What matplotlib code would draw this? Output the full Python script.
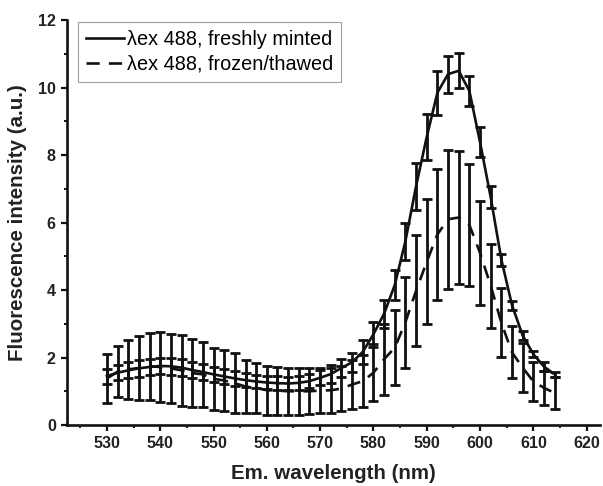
import matplotlib
matplotlib.use("Agg")
import matplotlib.pyplot as plt
from matplotlib.ticker import MultipleLocator
import numpy as np

plt.rcParams["font.family"] = ["Liberation Sans", "DejaVu Sans"]

# emission wavelengths (nm)
wavelength = np.arange(530, 616, 2)

# freshly minted: mean and error
fresh = [1.45, 1.55, 1.62, 1.68, 1.72, 1.75, 1.74, 1.70, 1.63, 1.57,
         1.50, 1.44, 1.38, 1.33, 1.29, 1.26, 1.24, 1.23, 1.25, 1.30,
         1.40, 1.51, 1.69, 1.86, 2.17, 2.69, 3.30, 4.15, 5.45, 7.08,
         8.54, 9.85, 10.40, 10.50, 9.90, 8.38, 6.75, 4.90, 3.55, 2.65,
         2.10, 1.73, 1.50]
fresh_err = [0.22, 0.23, 0.24, 0.25, 0.25, 0.25, 0.25, 0.25, 0.25, 0.24,
             0.23, 0.22, 0.21, 0.20, 0.20, 0.20, 0.20, 0.20, 0.20, 0.20,
             0.22, 0.26, 0.26, 0.28, 0.35, 0.37, 0.42, 0.45, 0.55, 0.70,
             0.68, 0.65, 0.55, 0.52, 0.45, 0.45, 0.33, 0.18, 0.14, 0.14,
             0.08, 0.13, 0.08]

# frozen/thawed: mean and error
frozen = [1.38, 1.58, 1.65, 1.69, 1.74, 1.72, 1.68, 1.62, 1.54, 1.50,
          1.37, 1.32, 1.24, 1.14, 1.10, 1.03, 1.02, 1.00, 1.00, 1.00,
          1.02, 1.03, 1.08, 1.20, 1.30, 1.55, 1.95, 2.29, 3.05, 3.98,
          4.84, 5.65, 6.10, 6.15, 5.93, 5.10, 4.13, 3.03, 2.15, 1.70,
          1.29, 1.10, 0.95]
frozen_err = [0.72, 0.76, 0.88, 0.95, 1.00, 1.05, 1.03, 1.05, 1.00, 0.96,
              0.92, 0.90, 0.88, 0.78, 0.75, 0.72, 0.71, 0.70, 0.70, 0.68,
              0.66, 0.67, 0.67, 0.72, 0.78, 0.85, 1.05, 1.11, 1.35, 1.64,
              1.86, 1.95, 2.06, 1.98, 1.82, 1.55, 1.25, 1.02, 0.77, 0.72,
              0.58, 0.50, 0.48]

labels = ["\u03bbex 488, freshly minted", "\u03bbex 488, frozen/thawed"]
INK = "#111111"

fig = plt.figure(figsize=(6.03, 4.86), dpi=100)
ax = fig.add_axes([0.111, 0.1255, 0.884, 0.833])

eb = dict(fmt="none", ecolor=INK, elinewidth=2.0, capsize=3.4, capthick=2.0)
ax.errorbar(wavelength, fresh, yerr=fresh_err, **eb)
ax.errorbar(wavelength, frozen, yerr=frozen_err, **eb)
ax.plot(wavelength, fresh, color=INK, lw=1.9, label=labels[0])
ax.plot(wavelength, frozen, color=INK, lw=1.9, ls=(0, (5, 3.5)), label=labels[1])

ax.set_xlim(522.5, 622.5)
ax.set_ylim(0, 12)
ax.xaxis.set_major_locator(MultipleLocator(10))
ax.xaxis.set_minor_locator(MultipleLocator(5))
ax.yaxis.set_major_locator(MultipleLocator(2))
ax.yaxis.set_minor_locator(MultipleLocator(1))
ax.set_xticks(np.arange(530, 621, 10))

for s in ("top", "right"):
    ax.spines[s].set_visible(False)
for s in ("left", "bottom"):
    ax.spines[s].set_linewidth(1.9)
    ax.spines[s].set_color(INK)

ax.tick_params(which="major", length=4, width=1.6, color=INK, labelsize=11.6, pad=4)
ax.tick_params(which="minor", length=2.5, width=1.4, color=INK)
for t in ax.get_xticklabels() + ax.get_yticklabels():
    t.set_fontweight("bold")
    t.set_color("#222222")

ax.set_xlabel("Em. wavelength (nm)", fontsize=14.8, fontweight="bold", color="#222222", labelpad=9)
ax.set_ylabel("Fluorescence intensity (a.u.)", fontsize=14.8, fontweight="bold", color="#222222", labelpad=8)

leg = ax.legend(loc="upper left", bbox_to_anchor=(0.02, 0.995), fontsize=14.3, frameon=True,
                fancybox=False, edgecolor="#888888", handlelength=1.95, handletextpad=0.15,
                borderpad=0.4, labelspacing=0.28, borderaxespad=0.0)
leg.get_frame().set_linewidth(0.8)

fig.savefig("out.png", dpi=100)
